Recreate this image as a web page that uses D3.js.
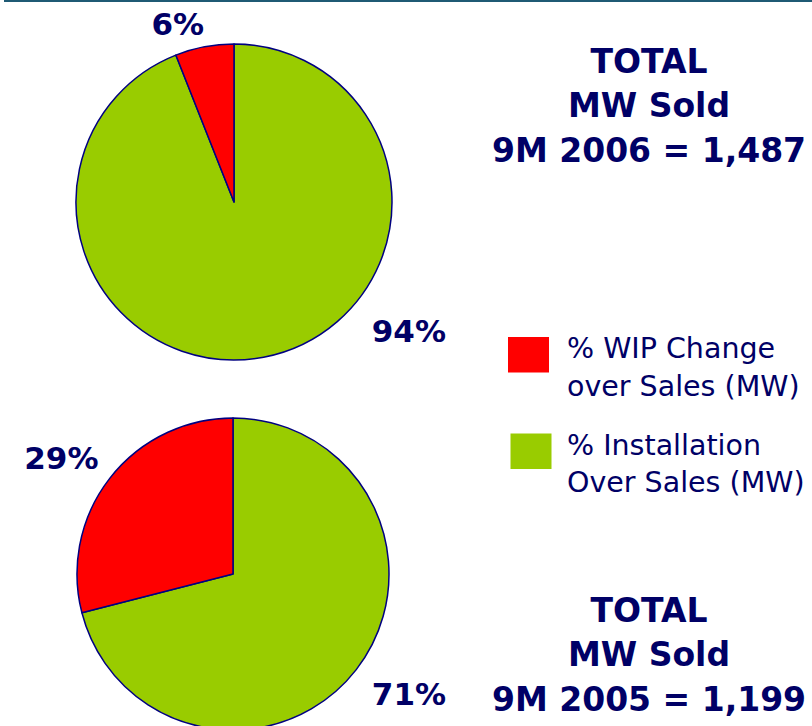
<!DOCTYPE html>
<html>
<head>
<meta charset="utf-8">
<script src="https://cdn.jsdelivr.net/npm/d3@7"></script>
<style>
  html, body { margin: 0; padding: 0; background: #fff; }
  svg { display: block; font-family: "DejaVu Sans", Verdana, sans-serif; }
</style>
</head>
<body>
<div id="chart"></div>
<script>
// data
var periods = ["9M 2006", "9M 2005"];
var totalMW = [1487, 1199];
var wipShare = [6, 29];        // % WIP change over sales (MW)
var installShare = [94, 71];   // % installation over sales (MW)
var seriesNames = [
  ["% WIP Change", "over Sales (MW)"],
  ["% Installation", "Over Sales (MW)"]
];
var seriesColors = ["#ff0000", "#99cc00"];

// layout
var width = 812, height = 726,
    textColor = "#000066",
    strokeColor = "#000080",
    pies = [
      {cx: 234, cy: 202, r: 158, titleY: 72.5},
      {cx: 233, cy: 574, r: 156, titleY: 621.5}
    ],
    // label placement (angle in degrees from 12 o'clock, radius) per slice [wip, install]
    labelPlace = [
      [[-17.5, 187], [126.3, 217]],
      [[-56, 207], [124.3, 213]]
    ];

var fmt = d3.format(",");

var svg = d3.select("#chart").append("svg")
    .attr("width", width)
    .attr("height", height);

svg.append("rect")
    .attr("x", 4).attr("y", 0)
    .attr("width", width - 4).attr("height", 2)
    .attr("fill", "#1f5a74");

var pie = d3.pie()
    .sort(null)
    .value(function(d) { return d.value; });

var arc = d3.arc().innerRadius(0);

periods.forEach(function(period, i) {
  var p = pies[i];
  // install first so wip ends at 12 o'clock going counter-clockwise
  var slices = [
    {key: 1, value: installShare[i]},
    {key: 0, value: wipShare[i]}
  ];

  var g = svg.append("g")
      .attr("transform", "translate(" + p.cx + "," + p.cy + ")");

  g.selectAll("path")
      .data(pie(slices))
    .enter().append("path")
      .attr("d", arc.outerRadius(p.r))
      .attr("fill", function(d) { return seriesColors[d.data.key]; })
      .attr("stroke", strokeColor)
      .attr("stroke-width", 1.5)
      .attr("stroke-linejoin", "round");

  g.selectAll("text.pct")
      .data(slices)
    .enter().append("text")
      .attr("class", "pct")
      .attr("x", function(d) {
        var lp = labelPlace[i][d.key];
        return lp[1] * Math.sin(lp[0] * Math.PI / 180);
      })
      .attr("y", function(d) {
        var lp = labelPlace[i][d.key];
        return -lp[1] * Math.cos(lp[0] * Math.PI / 180);
      })
      .attr("dy", "0.36em")
      .attr("text-anchor", "middle")
      .attr("font-size", 31)
      .attr("font-weight", "bold")
      .attr("fill", textColor)
      .text(function(d) { return d.value + "%"; });

  // total title
  var lines = ["TOTAL", "MW Sold", period + " = " + fmt(totalMW[i])];
  svg.append("g").selectAll("text")
      .data(lines)
    .enter().append("text")
      .attr("x", 649)
      .attr("y", function(d, j) { return p.titleY + j * 44.5; })
      .attr("text-anchor", "middle")
      .attr("font-size", 33)
      .attr("font-weight", "bold")
      .attr("fill", textColor)
      .text(function(d) { return d; });
});

// legend
var legend = svg.append("g").selectAll("g")
    .data(seriesNames)
  .enter().append("g")
    .attr("transform", function(d, i) { return "translate(0," + (i * 96.5) + ")"; });

legend.append("rect")
    .attr("x", function(d, i) { return 508 + i * 2.5; })
    .attr("y", 337)
    .attr("width", 41)
    .attr("height", 35.5)
    .attr("fill", function(d, i) { return seriesColors[i]; });

legend.selectAll("text")
    .data(function(d) { return d; })
  .enter().append("text")
    .attr("x", 567)
    .attr("y", function(d, j) { return 358 + j * 37.5; })
    .attr("font-size", 28.5)
    .attr("fill", textColor)
    .text(function(d) { return d; });
</script>
</body>
</html>
